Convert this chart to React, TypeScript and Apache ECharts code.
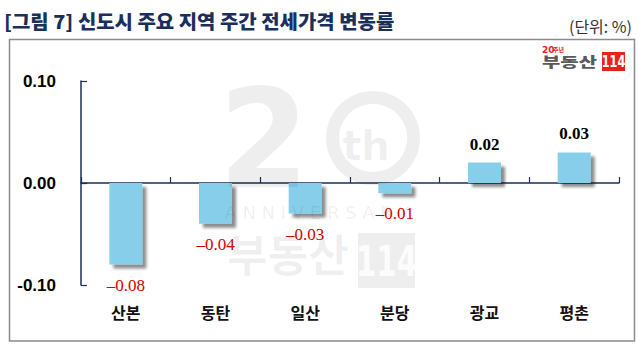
import React, { useEffect, useRef } from "react";
import * as echarts from "echarts";

const titleText = "[그림 7] 신도시 주요 지역 주간 전세가격 변동률";
const unitText = "(단위: %)";
const categories = ["산본", "동탄", "일산", "분당", "광교", "평촌"];
const values = [-0.08, -0.04, -0.03, -0.01, 0.02, 0.03];
const yMin = -0.1;
const yMax = 0.1;
const yInterval = 0.1;

const NAVY = "#1b2f5c";
const WM = "rgba(0,0,0,0.065)";
const KR = '"Noto Sans CJK KR", "Noto Sans", sans-serif';

export default function App() {
  const ref = useRef<HTMLDivElement>(null);
  useEffect(() => {
    document.body.style.margin = "0";
    if (!ref.current) return;
    const chart = echarts.init(ref.current, null, { renderer: "svg" });

    const fmt = (v: number) => (v < 0 ? "–" + Math.abs(v).toFixed(2) : v.toFixed(2));
    const data = values.map((v) => ({
      value: v,
      label:
        v < 0
          ? {
              show: true,
              position: "bottom",
              distance: 12,
              color: "#d40000",
              fontFamily: '"Liberation Serif", serif',
              fontSize: 17,
              fontWeight: "normal",
              formatter: () => fmt(v),
            }
          : {
              show: true,
              position: "top",
              distance: 10,
              color: "#000",
              fontFamily: '"Liberation Serif", serif',
              fontSize: 17,
              fontWeight: "bold",
              formatter: () => fmt(v),
            },
    }));

    chart.setOption({
      animation: false,
      backgroundColor: "#fff",
      grid: { left: 81, right: 19, top: 81, bottom: 77, containLabel: false, outerBoundsMode: "none" },
      xAxis: {
        type: "category",
        data: categories,
        axisLine: { onZero: true, lineStyle: { color: NAVY, width: 1.5 } },
        axisTick: { show: true, inside: true, length: 6, interval: 0, alignWithLabel: false, lineStyle: { color: NAVY, width: 1.2 } },
        axisLabel: {
          margin: 19,
          interval: 0,
          color: "#111",
          fontFamily: KR,
          fontWeight: "bold",
          fontSize: 16,
        },
        splitLine: { show: false },
      },
      yAxis: {
        type: "value",
        min: yMin,
        max: yMax,
        interval: yInterval,
        axisLine: { show: true, lineStyle: { color: NAVY, width: 1.5 } },
        axisTick: { show: true, inside: true, length: 6, lineStyle: { color: NAVY, width: 1.2 } },
        axisLabel: {
          margin: 25,
          color: "#000",
          fontFamily: '"Liberation Sans", Arial, sans-serif',
          fontWeight: "bold",
          fontSize: 17,
          formatter: (v: number) => v.toFixed(2),
        },
        splitLine: { show: false },
      },
      series: [
        {
          type: "bar",
          data,
          barWidth: 33,
          itemStyle: {
            color: "#87CEEB",
            shadowColor: "rgba(0,0,0,0.45)",
            shadowBlur: 3,
            shadowOffsetX: 4,
            shadowOffsetY: 4,
          },
        },
      ],
      graphic: [
        {
          type: "rect",
          silent: true,
          z: 1,
          shape: { x: 9.5, y: 39.5, width: 625, height: 301.5 },
          style: { fill: "none", stroke: "#8c8c8c", lineWidth: 1.5 },
        },
        {
          type: "text",
          silent: true,
          x: 4,
          y: 21,
          scaleX: 1.05,
          style: {
            text: titleText,
            x: 0,
            y: 0,
            font: `900 19px ${KR}`,
            fill: NAVY,
            verticalAlign: "middle",
          },
        },
        {
          type: "text",
          silent: true,
          style: {
            text: unitText,
            x: 632,
            y: 26,
            font: `16px ${KR}`,
            fill: "#333",
            align: "right",
            verticalAlign: "middle",
          },
        },
        // logo
        {
          type: "text",
          silent: true,
          style: { text: "20", x: 542, y: 50, font: 'bold 9px "DejaVu Sans", sans-serif', fill: "#e5231c", verticalAlign: "middle" },
        },
        {
          type: "text",
          silent: true,
          style: { text: "주년", x: 553, y: 49.5, font: `bold 6px ${KR}`, fill: "#e5231c", verticalAlign: "middle" },
        },
        {
          type: "text",
          silent: true,
          x: 542,
          y: 61,
          scaleY: 0.7,
          scaleX: 1.05,
          style: { text: "부동산", x: 0, y: 0, font: `900 19px ${KR}`, fill: "#5a5a5a", verticalAlign: "middle" },
        },
        {
          type: "rect",
          silent: true,
          shape: { x: 602, y: 52, width: 23, height: 19 },
          style: { fill: "#e5231c" },
        },
        {
          type: "text",
          silent: true,
          x: 613.5,
          y: 61.5,
          scaleX: 0.75,
          style: { text: "114", x: 0, y: 0, font: 'bold 15px "DejaVu Sans", sans-serif', fill: "#fff", align: "center", verticalAlign: "middle" },
        },
        // watermark
        {
          type: "text",
          z: 100,
          silent: true,
          x: 264,
          y: 139,
          scaleY: 1.05,
          style: { text: "2", x: 0, y: 0, font: 'bold 130px "DejaVu Sans", sans-serif', fill: WM, align: "center", verticalAlign: "middle" },
        },
        {
          type: "ring",
          z: 100,
          silent: true,
          shape: { cx: 373, cy: 138, r: 47, r0: 34 },
          style: { fill: WM },
        },
        {
          type: "text",
          z: 100,
          silent: true,
          style: { text: "th", x: 366, y: 146, font: 'bold 40px "DejaVu Sans", sans-serif', fill: WM, align: "center", verticalAlign: "middle" },
        },
        {
          type: "text",
          z: 100,
          silent: true,
          style: { text: "A N N I V E R S A R Y", x: 317, y: 212, font: '18px "DejaVu Sans", sans-serif', fill: WM, align: "center", verticalAlign: "middle" },
        },
        {
          type: "text",
          z: 100,
          silent: true,
          style: { text: "부동산", x: 288, y: 253, font: `bold 44px ${KR}`, fill: WM, align: "center", verticalAlign: "middle" },
        },
        {
          type: "rect",
          z: 100,
          silent: true,
          shape: { x: 358, y: 233, width: 57, height: 55 },
          style: { fill: WM },
        },
        {
          type: "text",
          z: 101,
          silent: true,
          x: 386.5,
          y: 262,
          scaleX: 0.7,
          style: { text: "114", x: 0, y: 0, font: 'bold 42px "DejaVu Sans", sans-serif', fill: "rgba(255,255,255,0.85)", align: "center", verticalAlign: "middle" },
        },
      ],
    });
    return () => chart.dispose();
  }, []);
  return <div ref={ref} style={{ position: "absolute", left: 0, top: 0, width: 638, height: 362 }} />;
}
